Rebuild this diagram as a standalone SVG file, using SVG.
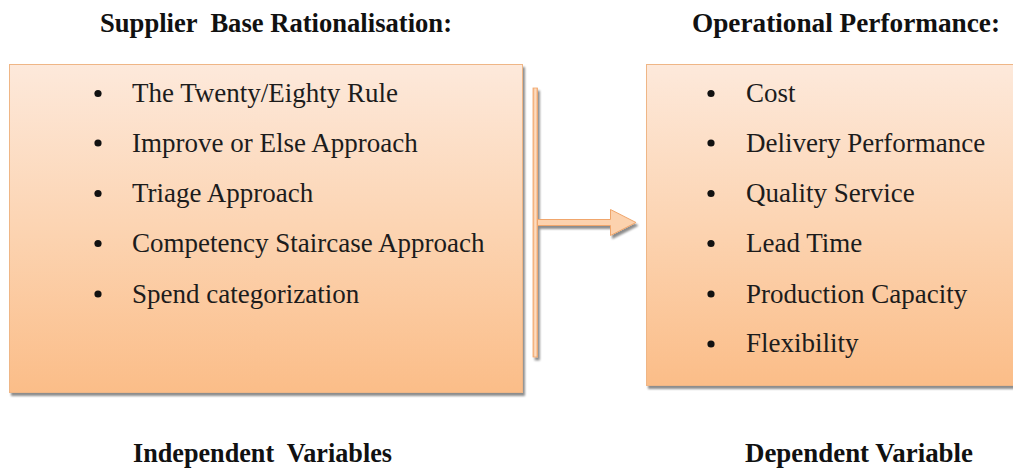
<svg xmlns="http://www.w3.org/2000/svg" width="1013" height="470" viewBox="0 0 1013 470">
  <defs>
    <linearGradient id="boxFill" x1="0" y1="0" x2="0" y2="1">
      <stop offset="0" stop-color="#fde9db"/>
      <stop offset="0.5" stop-color="#fcd4b2"/>
      <stop offset="1" stop-color="#fbbd88"/>
    </linearGradient>
    <linearGradient id="barFill" x1="0" y1="0" x2="1" y2="0">
      <stop offset="0" stop-color="#f6b27c"/>
      <stop offset="0.5" stop-color="#fde2cb"/>
      <stop offset="1" stop-color="#f6b27c"/>
    </linearGradient>
    <filter id="shadow" x="-5%" y="-5%" width="115%" height="115%">
      <feGaussianBlur in="SourceAlpha" stdDeviation="1.2"/>
      <feOffset dx="2" dy="3" result="off"/>
      <feComponentTransfer><feFuncA type="linear" slope="0.45"/></feComponentTransfer>
      <feMerge><feMergeNode/><feMergeNode in="SourceGraphic"/></feMerge>
    </filter>
  </defs>
  <style>
    .box { fill: url(#boxFill); stroke: #efb686; stroke-width: 1; }
    .item { font-family: "Liberation Serif", "Times New Roman", serif; font-size: 27px; fill: #1c1c1c; }
    .head { font-family: "Liberation Serif", "Times New Roman", serif; font-size: 26.5px; font-weight: bold; fill: #111; }
    .dot { fill: #111; }
    .conn { fill: #fcd2ae; stroke: #f0a66c; stroke-width: 1; }
  </style>
  <rect width="1013" height="470" fill="#ffffff"/>

  <!-- headings -->
  <text class="head" x="100" y="32" textLength="352" lengthAdjust="spacingAndGlyphs" xml:space="preserve">Supplier  Base Rationalisation:</text>
  <text class="head" x="692" y="32" textLength="308" lengthAdjust="spacingAndGlyphs">Operational Performance:</text>

  <!-- independent variables box -->
  <g id="node-independent">
    <rect class="box" x="9.5" y="64.5" width="513" height="328" filter="url(#shadow)"/>
    <circle class="dot" cx="98" cy="93.5" r="3.6"/>
    <text class="item" x="132" y="102">The Twenty/Eighty Rule</text>
    <circle class="dot" cx="98" cy="143" r="3.6"/>
    <text class="item" x="132" y="151.5">Improve or Else Approach</text>
    <circle class="dot" cx="98" cy="193.5" r="3.6"/>
    <text class="item" x="132" y="202">Triage Approach</text>
    <circle class="dot" cx="98" cy="243.5" r="3.6"/>
    <text class="item" x="132" y="252">Competency Staircase Approach</text>
    <circle class="dot" cx="98" cy="294" r="3.6"/>
    <text class="item" x="132" y="302.5">Spend categorization</text>
  </g>

  <!-- dependent variable box -->
  <g id="node-dependent">
    <rect class="box" x="646.5" y="64.5" width="380" height="321" filter="url(#shadow)"/>
    <circle class="dot" cx="711" cy="93.5" r="3.6"/>
    <text class="item" x="746" y="102">Cost</text>
    <circle class="dot" cx="711" cy="143" r="3.6"/>
    <text class="item" x="746" y="151.5">Delivery Performance</text>
    <circle class="dot" cx="711" cy="193.5" r="3.6"/>
    <text class="item" x="746" y="202">Quality Service</text>
    <circle class="dot" cx="711" cy="243.5" r="3.6"/>
    <text class="item" x="746" y="252">Lead Time</text>
    <circle class="dot" cx="711" cy="294" r="3.6"/>
    <text class="item" x="746" y="302.5">Production Capacity</text>
    <circle class="dot" cx="711" cy="344" r="3.6"/>
    <text class="item" x="746" y="352">Flexibility</text>
  </g>

  <!-- connector: bracket bar with arrow -->
  <g id="connectors" filter="url(#shadow)">
    <rect x="533" y="88" width="4.5" height="269" fill="url(#barFill)" stroke="#f0a66c" stroke-width="0.8"/>
    <path class="conn" d="M537.5,219.5 H610.5 V209.5 L636,222.5 L610.5,235.5 V225.5 H537.5 Z"/>
  </g>

  <!-- captions -->
  <text class="head" x="133" y="462" textLength="259" lengthAdjust="spacingAndGlyphs" xml:space="preserve">Independent  Variables</text>
  <text class="head" x="745" y="462" textLength="228" lengthAdjust="spacingAndGlyphs">Dependent Variable</text>
</svg>
